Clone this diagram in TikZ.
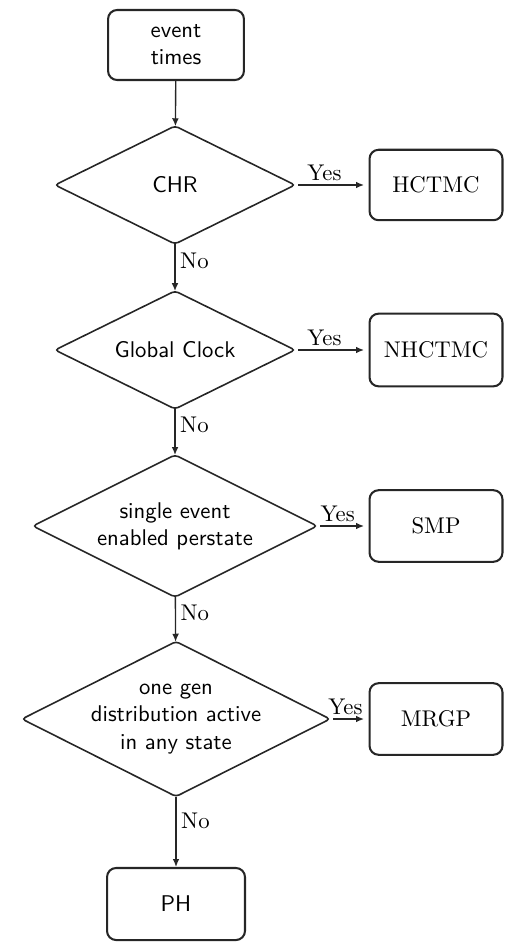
\documentclass[tikz,border=0pt]{standalone}
\usetikzlibrary{shapes.geometric,arrows.meta}
\begin{document}
\begin{tikzpicture}[x=0.44pt,y=-0.44pt,
  box/.style={draw=black!85,line width=0.9pt,rounded corners=4pt,inner sep=0pt,font=\rmfamily},
  sbox/.style={box,font=\sffamily,align=center},
  dec/.style={draw=black!85,line width=0.7pt,diamond,inner sep=0pt,outer sep=0pt,rounded corners=1.5pt},
  dtext/.style={font=\sffamily,align=center,inner sep=0pt},
  arr/.style={draw=black!85,line width=0.6pt,-{Latex[length=3.5pt,width=3pt]}},
  harr/.style={arr,shorten <=1.5pt,shorten >=2pt},
  yes/.style={above,pos=0.4,inner sep=1.5pt,font=\rmfamily},
  no/.style={right,pos=0.35,inner sep=2pt,font=\rmfamily}]
\useasboundingbox (0,0) rectangle (506,942);
\node[sbox,minimum width=59.8pt,minimum height=30.8pt] (ev) at (176,45) {event\\times};
\node[dec,minimum width=105.6pt,minimum height=51.9pt] (d1) at (175,185) {};
\node[dtext] at (d1) {CHR};
\node[dec,minimum width=105.6pt,minimum height=51.9pt] (d2) at (175,350) {};
\node[dtext] at (d2) {Global Clock};
\node[dec,minimum width=125pt,minimum height=62.5pt] (d3) at (175,526) {};
\node[dtext] at (d3) {single event\\enabled perstate};
\node[dec,minimum width=135.5pt,minimum height=68.2pt] (d4) at (176,719) {};
\node[dtext] at (d4) {one gen\\distribution active\\in any state};
\node[box,minimum width=58.5pt,minimum height=31pt] (b1) at (436,185) {HCTMC};
\node[box,minimum width=58.5pt,minimum height=32pt] (b2) at (436,350) {NHCTMC};
\node[box,minimum width=58.5pt,minimum height=31.5pt] (b3) at (436,526) {SMP};
\node[box,minimum width=58.5pt,minimum height=31.5pt] (b4) at (436,719) {MRGP};
\node[sbox,minimum width=60.7pt,minimum height=31.7pt] (ph) at (176,904) {PH};
\draw[arr] (ev) -- (d1);
\draw[arr] (d1) -- node[no] {No} (d2);
\draw[arr] (d2) -- node[no] {No} (d3);
\draw[arr] (d3) -- node[no] {No} (d4);
\draw[arr] (d4) -- node[no] {No} (ph);
\draw[harr] (d1.east) -- node[yes] {Yes} (b1.west);
\draw[harr] (d2.east) -- node[yes] {Yes} (b2.west);
\draw[harr] (d3.east) -- node[yes] {Yes} (b3.west);
\draw[harr] (d4.east) -- node[yes] {Yes} (b4.west);
\end{tikzpicture}
\end{document}
